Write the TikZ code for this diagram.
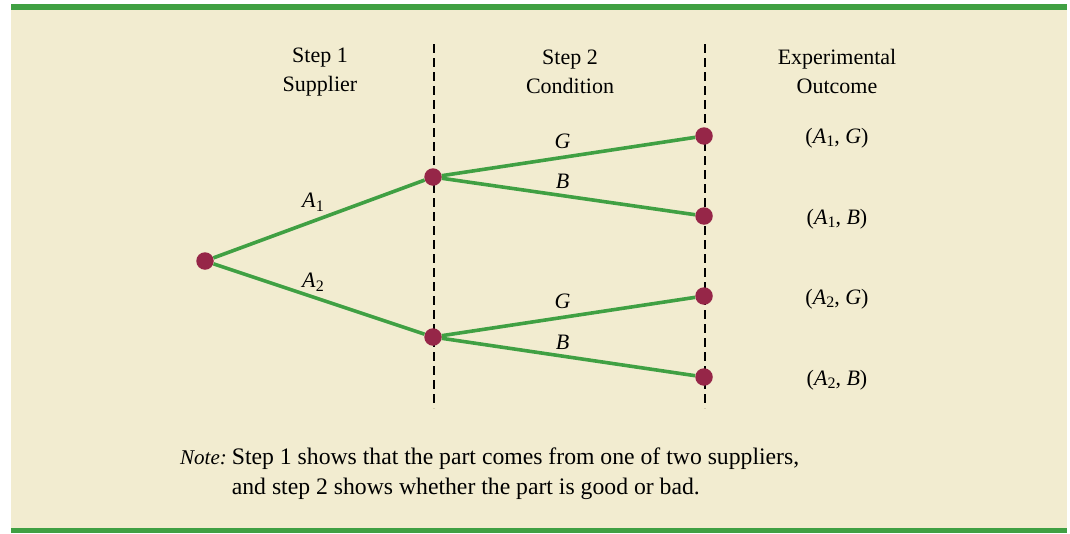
\documentclass[tikz,border=0pt]{standalone}
\usepackage{fontspec}
\setmainfont{Liberation Serif}
\usetikzlibrary{positioning}
\definecolor{panelbg}{RGB}{242,236,208}
\definecolor{treegreen}{RGB}{64,160,67}
\definecolor{dotred}{RGB}{150,38,72}
\newcommand{\lowidx}[1]{\raisebox{-0.35ex}{\fontsize{16}{16}\selectfont #1}}

\begin{document}
\begin{tikzpicture}[x=1pt, y=-1pt,
    dot/.style={circle, fill=dotred, inner sep=0pt, minimum size=17.5pt},
    branch/.style={draw=treegreen, line width=3.6pt},
    lbl/.style={font=\fontsize{22}{29}\selectfont, align=center, inner sep=1pt},
    edgelbl/.style={lbl, above=5pt, xshift=-6pt},
    divider/.style={draw=black, line width=1.8pt, dash pattern=on 9pt off 5pt}
]
    \useasboundingbox (0,0) rectangle (1070,533);
    % panel and bars
    \fill[panelbg] (11,4) rectangle (1067,533);
    \fill[treegreen] (11,4) rectangle (1067,10);
    \fill[treegreen] (11,528) rectangle (1067,533);

    % column headers
    \node[lbl] (hsupplier) at (320,72) {Step 1\\Supplier};
    \node[lbl] (hcondition) at (570,72) {Step 2\\Condition};
    \node[lbl] (houtcome) at (837,71) {Experimental\\Outcome};

    % dashed stage dividers
    \coordinate (d1top) at (434,44);
    \coordinate (d1bot) at (434,408);
    \coordinate (d2top) at (705,44);
    \coordinate (d2bot) at (705,408);
    \draw[divider] (d1top) -- (d1bot);
    \draw[divider] (d2top) -- (d2bot);

    % tree nodes
    \node[dot] (root) at (205,261) {};
    \node[dot] (a1) at (433,177) {};
    \node[dot] (a2) at (433,337) {};
    \node[dot] (a1g) at (704,136) {};
    \node[dot] (a1b) at (704,216) {};
    \node[dot] (a2g) at (704,296) {};
    \node[dot] (a2b) at (704,377) {};

    % branches
    \draw[branch] (root) -- node[edgelbl] {\textit{A}\lowidx{1}} (a1);
    \draw[branch] (root) -- node[edgelbl] {\textit{A}\lowidx{2}} (a2);
    \draw[branch] (a1) -- node[edgelbl] {\textit{G}} (a1g);
    \draw[branch] (a1) -- node[edgelbl] {\textit{B}} (a1b);
    \draw[branch] (a2) -- node[edgelbl] {\textit{G}} (a2g);
    \draw[branch] (a2) -- node[edgelbl] {\textit{B}} (a2b);

    % outcomes
    \node[lbl] (o1) at (837,138) {(\textit{A}\lowidx{1}, \textit{G})};
    \node[lbl] (o2) at (837,219) {(\textit{A}\lowidx{1}, \textit{B})};
    \node[lbl] (o3) at (837,299) {(\textit{A}\lowidx{2}, \textit{G})};
    \node[lbl] (o4) at (837,380) {(\textit{A}\lowidx{2}, \textit{B})};

    % note
    \node[lbl, anchor=north west, inner sep=0pt, font=\fontsize{23.7}{30}\selectfont] (note) at (180,443) {%
        \begin{tabular}{@{}l@{\hspace{5pt}}l@{}}
        {\fontsize{21}{30}\selectfont\textit{Note:}} & Step 1 shows that the part comes from one of two suppliers,\\
        & and step 2 shows whether the part is good or bad.
        \end{tabular}};
\end{tikzpicture}
\end{document}
